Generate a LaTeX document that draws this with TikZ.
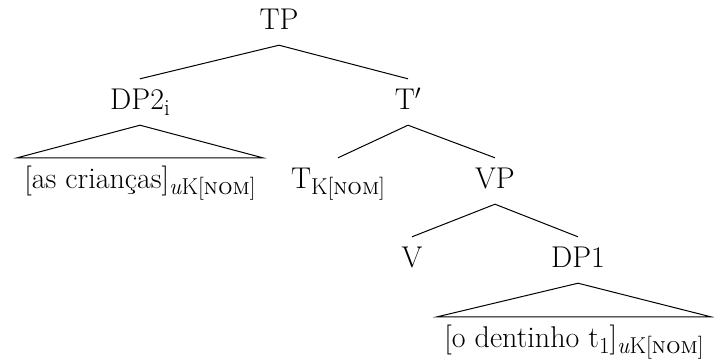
\documentclass[tikz,border=0pt]{standalone}
\usepackage{amsmath}
\usepackage{fontspec}
\newcommand\lsub[1]{\raisebox{-6pt}{\fontsize{23}{26}\selectfont #1}}
\begin{document}
\begin{tikzpicture}[x=1pt,y=-1pt,
  lbl/.style={anchor=base,text height=20pt,text depth=6pt,inner ysep=10pt,inner xsep=0pt,font=\fontsize{30}{34}\selectfont},
  roofed/.style={lbl,inner xsep=7pt},
  br/.style={line width=1pt,line join=miter}]
\useasboundingbox (0,0) rectangle (714,360);
\node[lbl] (tp) at (279,29) {TP};
\node[lbl] (dp2) at (140,109) {DP2\lsub{i}};
\node[lbl] (tbar) at (408,109) {T$'$};
\node[roofed] (dpa) at (140,188) {[as crianças]\lsub{\textit{u}K[\textsc{nom}]}};
\node[lbl] (tk) at (338,188) {T\lsub{K[\textsc{nom}]}};
\node[lbl] (vp) at (495,188) {VP};
\node[lbl] (v) at (412,267) {V};
\node[lbl] (dp1) at (578,267) {DP1};
\node[roofed] (dpb) at (574,347) {[o dentinho t\lsub{1}]\lsub{\textit{u}K[\textsc{nom}]}};
\draw[br] (tp.south) -- (dp2.north);
\draw[br] (tp.south) -- (tbar.north);
\draw[br] (dp2.south) -- (dpa.north west) -- (dpa.north east) -- cycle;
\draw[br] (tbar.south) -- (tk.north);
\draw[br] (tbar.south) -- (vp.north);
\draw[br] (vp.south) -- (v.north);
\draw[br] (vp.south) -- (dp1.north);
\draw[br] (dp1.south) -- (dpb.north west) -- (dpb.north east) -- cycle;
\end{tikzpicture}
\end{document}
